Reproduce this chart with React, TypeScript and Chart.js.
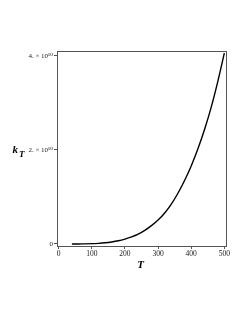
import React, { useEffect, useRef } from "react";
import { Chart, registerables } from "chart.js";

Chart.register(...registerables);

const temps = [40, 60, 80, 100, 120, 140, 160, 180, 200, 220, 240, 260, 280, 300, 320, 340, 360, 380, 400, 420, 440, 460, 480, 500];
const rates = [0.0002e10, 0.0008e10, 0.0027e10, 0.0065e10, 0.0135e10, 0.025e10, 0.043e10, 0.068e10, 0.104e10, 0.15e10, 0.21e10, 0.29e10, 0.39e10, 0.51e10, 0.66e10, 0.85e10, 1.08e10, 1.35e10, 1.66e10, 2.02e10, 2.43e10, 2.9e10, 3.45e10, 4.06e10];
const xTicks = [0, 100, 200, 300, 400, 500];
const yTicks = [0, 2e10, 4e10];
const yTickLabels = ["0", "2. × 10¹⁰", "4. × 10¹⁰"];
const xTitle = "T";
const yTitleMain = "k";
const yTitleSub = "T";

const FONT = "'Liberation Serif', 'DejaVu Serif', serif";

const framePlugin = {
  id: "frameAndTitles",
  afterDraw(chart: any) {
    const { ctx, chartArea } = chart;
    ctx.save();
    ctx.strokeStyle = "#555";
    ctx.lineWidth = 1;
    ctx.strokeRect(Math.round(chartArea.left) + 0.5, Math.round(chartArea.top) + 0.5, Math.round(chartArea.right - chartArea.left), Math.round(chartArea.bottom - chartArea.top));
    ctx.fillStyle = "#000";
    ctx.textBaseline = "alphabetic";
    ctx.font = `italic bold 11px ${FONT}`;
    ctx.textAlign = "center";
    ctx.fillText(xTitle, 140.5, 268);
    ctx.textAlign = "left";
    ctx.font = `italic bold 11px ${FONT}`;
    ctx.fillText(yTitleMain, 12.5, 153);
    ctx.font = `italic bold 9px ${FONT}`;
    ctx.fillText(yTitleSub, 19, 157);
    ctx.restore();
  },
};

export default function App() {
  const ref = useRef<HTMLCanvasElement>(null);
  useEffect(() => {
    document.body.style.margin = "0";
    const chart = new Chart(ref.current!, {
      type: "line",
      data: {
        datasets: [
          {
            data: temps.map((t, i) => ({ x: t, y: rates[i] })),
            borderColor: "#000",
            borderWidth: 1.4,
            pointRadius: 0,
            tension: 0.3,
            fill: false,
          },
        ],
      },
      options: {
        animation: false,
        responsive: false,
        maintainAspectRatio: false,
        layout: { padding: { top: 51, right: 21, left: 0, bottom: 0 } },
        plugins: { legend: { display: false }, tooltip: { enabled: false } },
        scales: {
          x: {
            type: "linear",
            min: -5,
            max: 505,
            afterBuildTicks: (s: any) => {
              s.ticks = xTicks.map((v) => ({ value: v }));
            },
            afterFit: (s: any) => {
              s.height = 73;
            },
            grid: { display: true, drawOnChartArea: false, drawTicks: true, tickLength: 3, color: "#555" },
            border: { display: true, color: "#555" },
            ticks: {
              color: "#222",
              font: { family: FONT, size: 7.5 },
              padding: 1,
              maxRotation: 0,
              callback: (v: any) => String(v),
            },
          },
          y: {
            type: "linear",
            min: -0.043e10,
            max: 4.106e10,
            afterBuildTicks: (s: any) => {
              s.ticks = yTicks.map((v) => ({ value: v }));
            },
            afterFit: (s: any) => {
              s.width = 57;
            },
            grid: { display: true, drawOnChartArea: false, drawTicks: true, tickLength: 3, color: "#555" },
            border: { display: true, color: "#555" },
            ticks: {
              color: "#222",
              font: { family: FONT, size: 7 },
              padding: 1,
              callback: (v: any) => {
                const i = yTicks.indexOf(v);
                return i >= 0 ? yTickLabels[i] : "";
              },
            },
          },
        },
      },
      plugins: [framePlugin],
    } as any);
    return () => chart.destroy();
  }, []);
  return (
    <div style={{ position: "absolute", left: 0, top: 0, width: 247, height: 319, background: "#fff" }}>
      <canvas ref={ref} width={247} height={319} style={{ width: 247, height: 319 }} />
    </div>
  );
}
